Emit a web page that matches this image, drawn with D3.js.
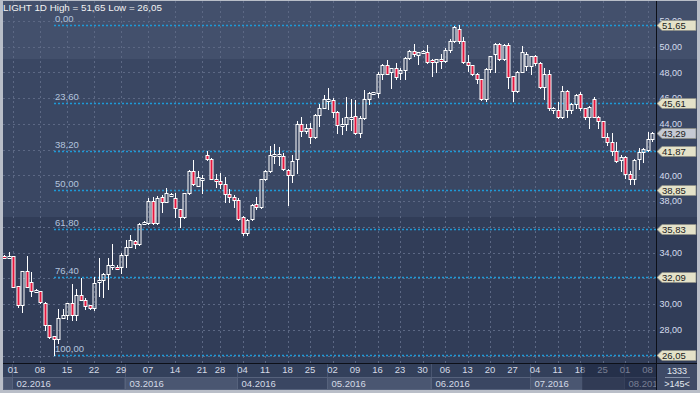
<!DOCTYPE html>
<html><head><meta charset="utf-8">
<script src="https://cdn.jsdelivr.net/npm/d3@7"></script>
<style>
html,body{margin:0;padding:0;background:#b9bec8;overflow:hidden;}
svg{display:block;font-family:"Liberation Sans",Arial,sans-serif;}
</style></head><body>
<svg id="c" width="700" height="393"></svg>
<script>
// ---- data ----
const opens  = [33.75,33.65,33.7,31.4,29.9,32.55,31.75,31.0,31.0,30.1,28.35,27.5,27.3,28.95,29.15,30.05,29.15,30.7,30.35,29.9,
29.7,31.7,31.85,32.35,33.0,32.9,32.85,33.8,34.4,34.9,34.7,36.3,36.3,38.0,36.3,38.3,37.95,38.5,38.2,37.35,
36.75,38.6,40.35,39.2,39.75,41.55,41.3,39.75,39.55,39.3,38.55,38.35,38.1,36.75,35.5,36.6,37.75,37.5,39.7,40.3,
41.6,41.6,41.5,40.4,40.0,41.25,43.95,43.45,43.65,42.95,44.7,45.25,45.9,45.85,44.9,43.85,44.0,44.5,44.6,43.25,
44.45,45.9,46.4,46.4,47.9,48.6,48.0,48.3,47.95,48.15,49.1,49.65,49.35,49.6,49.6,48.95,48.8,49.0,48.85,49.7,
50.4,51.4,50.45,48.8,48.55,47.9,47.45,45.9,48.25,49.4,50.2,49.0,50.15,47.7,46.55,48.05,48.45,48.45,49.25,48.75,
46.85,47.85,45.15,45.05,44.5,46.55,45.05,45.5,46.3,45.2,44.5,45.95,44.55,44.2,43.0,42.6,41.9,41.15,41.4,40.1,
39.7,41.25,41.8,41.95,42.8];
const highs  = [33.8,34.05,33.75,31.4,32.6,33.7,32.5,31.15,31.05,30.15,28.4,27.55,29.65,29.65,30.1,31.55,31.15,32.05,30.5,29.95,
32.1,33.6,32.4,33.6,34.7,33.0,33.95,34.95,35.35,35.0,36.3,36.45,38.2,38.35,38.4,38.45,39.0,38.6,38.6,37.4,
38.65,40.4,41.2,40.3,40.0,41.85,41.35,40.1,40.15,39.85,38.9,38.5,38.2,36.8,36.6,37.75,38.3,39.75,40.4,42.25,
42.45,42.2,41.7,40.45,41.55,44.25,44.5,43.95,44.1,44.75,45.5,46.2,46.75,46.0,45.0,44.45,46.05,45.9,45.85,44.6,
46.6,46.5,46.5,48.0,48.65,48.95,48.35,48.75,48.3,49.15,49.75,50.2,49.6,49.75,50.1,49.0,49.05,49.45,49.85,50.6,
51.6,51.65,50.75,49.35,48.6,47.95,47.5,48.3,49.3,50.3,50.3,50.2,50.25,47.75,48.1,50.05,49.6,49.3,49.35,48.8,
48.3,48.2,45.3,45.7,46.95,46.6,45.6,46.3,46.45,45.25,45.35,46.05,44.6,44.25,43.3,43.25,42.6,41.6,41.5,40.3,
41.25,42.1,42.1,43.4,43.35];
const lows   = [33.6,33.6,31.3,29.8,29.4,31.3,30.65,30.95,30.05,28.0,27.4,26.05,26.95,28.9,28.8,28.75,28.75,30.3,29.65,29.6,
29.5,30.6,30.55,31.15,32.7,32.7,32.4,32.9,34.4,34.35,34.6,36.2,36.2,36.2,36.2,37.15,37.9,38.45,36.75,35.95,
36.7,38.55,39.25,39.15,38.6,41.2,39.7,39.1,39.0,37.95,37.95,37.5,36.55,35.35,35.35,36.5,37.4,37.45,39.65,40.25,
40.95,40.8,40.4,37.7,39.5,40.15,43.05,43.3,42.5,42.9,43.8,45.2,45.15,44.55,43.3,43.2,43.5,43.5,43.2,43.0,
44.4,45.5,46.35,46.1,47.5,47.85,46.75,47.45,47.45,47.45,49.0,49.3,48.65,49.5,48.75,47.7,48.05,48.3,48.8,49.6,
50.35,50.3,48.75,48.1,47.8,47.2,45.85,45.8,48.0,48.05,48.95,48.95,46.75,45.8,46.5,48.0,48.2,47.85,48.6,46.8,
45.9,45.1,44.8,44.45,44.45,44.55,44.8,45.2,45.1,44.4,43.65,44.5,43.7,42.95,42.35,41.6,41.05,40.3,39.8,39.3,
39.35,40.45,41.05,41.9,42.7];
const closes = [33.65,33.75,31.35,29.9,32.55,31.35,31.05,31.1,30.15,28.35,27.45,27.3,28.95,29.15,30.05,29.15,30.7,30.35,29.85,29.7,
31.6,31.85,32.35,33.05,33.05,32.75,33.8,34.4,34.95,34.7,36.25,36.35,38.0,36.3,38.2,37.95,38.6,38.55,37.45,36.75,
38.6,40.35,39.3,39.9,39.8,41.3,39.75,39.6,39.3,38.55,38.3,38.1,36.6,35.5,36.5,37.7,37.5,39.7,40.35,41.6,
41.65,41.65,40.45,40.0,41.1,44.0,43.45,43.7,42.95,44.7,45.25,45.9,45.95,44.9,43.9,44.0,44.5,44.55,43.25,44.45,
45.9,46.4,46.45,47.9,48.55,47.9,48.3,47.6,48.2,49.1,49.65,49.4,49.55,49.65,48.8,48.8,49.0,48.85,49.75,50.45,
51.55,50.4,48.8,48.55,47.85,47.45,45.9,48.25,49.25,50.2,49.0,50.15,47.6,46.55,48.05,49.55,49.45,49.25,48.7,46.85,
47.9,45.2,45.25,44.5,46.55,45.1,45.55,46.25,45.2,44.5,45.3,44.55,44.25,43.0,42.6,41.9,41.1,41.4,40.1,39.7,
41.2,41.8,42.05,42.85,43.29];

const dayTickIdx    = [2,8,14,20,26,32,38,44,48,53,58,63,68,73,78,83,88,93,98,103,108,113,118,123,128,133,138,143];
const dayTickLabels = ["01","08","15","22","29","07","14","21","28","04","11","18","25","02","09","16","23","30","06","13","20","27","04","11","18","25","01","08"];
const monthStartIdx = [0,2,27,52,72,95,117,138];
const monthLabels   = ["","02.2016","03.2016","04.2016","05.2016","06.2016","07.2016","08.2016"];
const priceTicks    = [26,28,30,32,34,36,38,40,42,44,46,48,50,52];
const fibPcts       = [0,23.6,38.2,50,61.8,76.4,100];
const rangeHigh = 51.65, rangeLow = 26.05, rangeLowIdx = 11;
const lastPrice = 43.29;
const titleText = "LIGHT 1D High = 51,65 Low = 26,05";
const footerTexts = ["1333", ">145<"];
const dimFromIdx = 128.5;

// ---- layout ----
const svg = d3.select("#c");
const W = 700, H = 393;
const plotL = 3, plotR = 656.5, plotT = 1, plotB = 363;
const axisB = 390;
const n = opens.length;
const x = d3.scaleBand().domain(d3.range(n)).range([1.75, 1.75 + 4.5*n]);
const xc = i => x(i) + x.bandwidth()/2;
const xi = v => 1.75 + 4.5*(v + 0.5);
const y = d3.scaleLinear().domain([rangeLow, rangeHigh]).range([354.9, 25.3]);
const fmt = v => d3.format(".2f")(v).replace(".", ",");

const defs = svg.append("defs");
defs.append("clipPath").attr("id","plotClip").append("rect")
  .attr("x",plotL).attr("y",plotT).attr("width",plotR-plotL).attr("height",plotB-plotT);
defs.append("clipPath").attr("id","axisClip").append("rect")
  .attr("x",plotL).attr("y",plotB).attr("width",plotR-plotL).attr("height",axisB-plotB);

svg.append("rect").attr("width",W).attr("height",H).attr("fill","#b9bec8");
const bands = [[plotT,59,"#43506c"],[59,217,"#3a4763"],[217,plotB,"#313d58"]];
svg.selectAll("rect.bg").data(bands).enter().append("rect")
  .attr("x",plotL).attr("y",d=>d[0]).attr("width",697-plotL).attr("height",d=>d[1]-d[0]).attr("fill",d=>d[2]);

// grid
const grid = svg.append("g").attr("clip-path","url(#plotClip)");
grid.selectAll("line.h").data(priceTicks).enter().append("line")
  .attr("x1",plotL).attr("x2",plotR)
  .attr("y1",d=>Math.round(y(d))+0.5).attr("y2",d=>Math.round(y(d))+0.5)
  .attr("stroke","#5c6884").attr("stroke-dasharray","2,3").attr("stroke-width",1);
grid.selectAll("line.v").data(dayTickIdx).enter().append("line")
  .attr("x1",d=>Math.round(xc(d))+0.5).attr("x2",d=>Math.round(xc(d))+0.5)
  .attr("y1",plotT).attr("y2",plotB)
  .attr("stroke","#5c6884").attr("stroke-dasharray","2,3").attr("stroke-width",1);

// fib lines
const fibs = fibPcts.map(p => ({p, v: rangeHigh - p/100*(rangeHigh-rangeLow)}));
const fg = svg.append("g").attr("clip-path","url(#plotClip)");
fg.selectAll("line").data(fibs).enter().append("line")
  .attr("x1",Math.round(xc(rangeLowIdx))).attr("x2",plotR)
  .attr("y1",d=>Math.round(y(d.v))+0.5).attr("y2",d=>Math.round(y(d.v))+0.5)
  .attr("stroke","#1d9ad8").attr("stroke-width",1.3).attr("stroke-dasharray","2,2");
fg.selectAll("text").data(fibs).enter().append("text")
  .attr("x",Math.round(xc(rangeLowIdx))+1).attr("y",d=>Math.round(y(d.v))-3)
  .attr("font-size",9.5).attr("fill","#b3c4de").text(d=>fmt(d.p));

// candles
const cg = svg.append("g").attr("clip-path","url(#plotClip)");
d3.range(n).forEach(i => {
  const o=opens[i], c=closes[i], h=highs[i], l=lows[i];
  const cx = Math.round(xc(i));
  let top = Math.round(y(Math.max(o,c))), bot = Math.round(y(Math.min(o,c)));
  if (bot - top < 2) bot = top + 2;
  const yh = Math.round(y(h)), yl = Math.round(y(l));
  if (yh < top) cg.append("line").attr("x1",cx+0.5).attr("x2",cx+0.5).attr("y1",yh).attr("y2",top)
      .attr("stroke","#fff").attr("stroke-width",1);
  if (yl > bot) cg.append("line").attr("x1",cx+0.5).attr("x2",cx+0.5).attr("y1",bot).attr("y2",yl+1)
      .attr("stroke","#fff").attr("stroke-width",1);
  cg.append("rect").attr("x",cx-1).attr("y",top+0.5).attr("width",3).attr("height",bot-top)
    .attr("fill", c >= o ? "none" : "#e3173e").attr("stroke","#fff").attr("stroke-width",1);
});

// title
svg.append("text").attr("x",3).attr("y",11).attr("font-size",9.8).attr("fill","#f2f2f2").text(titleText);

// right price axis (labels fully covered by a value box are left out)
const boxVals = fibs.map(d=>d.v).concat([lastPrice]);
const shownTicks = priceTicks.filter(t => boxVals.every(v => Math.abs(y(t)-y(v)) > 4));
const ra = svg.append("g").attr("transform",`translate(${plotR},0)`)
  .call(d3.axisRight(y).tickValues(shownTicks).tickFormat(fmt).tickSize(0).tickPadding(3));
ra.select(".domain").remove();
ra.selectAll("text").attr("font-size",9).attr("fill","#d6deee").attr("font-family","Liberation Sans, Arial, sans-serif");

// fib value boxes + last price box
const boxes = fibs.map(d => ({v:d.v, fill:"#e4e2c9"})).concat([{v:lastPrice, fill:"#c6cad4"}]);
const bg = svg.append("g");
boxes.forEach(b => {
  const yy = Math.round(y(b.v)) + 0.5;
  bg.append("path")
    .attr("d",`M${plotR+0.5},${yy} L${plotR+5.5},${yy-5} L${696},${yy-5} L${696},${yy+5} L${plotR+5.5},${yy+5} Z`)
    .attr("fill",b.fill).attr("stroke","#8e8f86").attr("stroke-width",0.8);
  bg.append("text").attr("x",plotR+5.5).attr("y",yy+3.5).attr("font-size",9.5).attr("fill","#1c1c1c").text(fmt(b.v));
});

// bottom axis area
svg.append("rect").attr("x",plotL).attr("y",plotB).attr("width",plotR-plotL).attr("height",axisB-plotB).attr("fill","#33405b");
const ag = svg.append("g").attr("clip-path","url(#axisClip)");
const months = monthStartIdx.map((s,k) => ({s, e: k+1 < monthStartIdx.length ? monthStartIdx[k+1] : n+3, label: monthLabels[k], k}));
ag.selectAll("rect.m").data(months).enter().append("rect")
  .attr("x",d=>Math.round(xc(d.s))-0.5+ (d.k===0? -xc(0)+plotL+1 : 0)).attr("y",377.5)
  .attr("width",d=> xi(d.e) - xi(d.s) + (d.k===0? xc(0)-plotL-1 : 0)).attr("height",12)
  .attr("fill",d=> d.k%2===0 ? "#4a5671" : "#3a4662").attr("stroke","#56627c").attr("stroke-width",1);
ag.selectAll("line.m").data(months.slice(1)).enter().append("line")
  .attr("x1",d=>Math.round(xc(d.s))-0.5).attr("x2",d=>Math.round(xc(d.s))-0.5)
  .attr("y1",plotB).attr("y2",377).attr("stroke","#4a5671");
ag.selectAll("text.m").data(months).enter().append("text")
  .attr("x",d=>Math.round(xc(d.s))+3.5).attr("y",386.5).attr("font-size",9.5).attr("fill","#d4dae6")
  .text(d=>d.label);

const ba = svg.append("g").attr("transform",`translate(0,${plotB})`)
  .call(d3.axisBottom(x).tickValues(dayTickIdx).tickFormat((d,k)=>dayTickLabels[k]).tickSize(0).tickPadding(3));
ba.select(".domain").remove();
ba.selectAll("text").attr("font-size",9.5).attr("fill","#d4dae6").attr("font-family","Liberation Sans, Arial, sans-serif");

// dimmed tail of the axis
svg.append("rect").attr("x",xi(dimFromIdx)).attr("y",plotB).attr("width",plotR-xi(dimFromIdx)).attr("height",axisB-plotB)
  .attr("fill","#18203a").attr("opacity",0.5);

// bottom-right info box
svg.append("rect").attr("x",plotR).attr("y",plotB).attr("width",697-plotR).attr("height",axisB-plotB).attr("fill","#3e4a66");
svg.append("line").attr("x1",665).attr("x2",690).attr("y1",377.5).attr("y2",377.5).attr("stroke","#8894aa");
svg.append("text").attr("x",677).attr("y",374).attr("text-anchor","middle").attr("font-size",9).attr("fill","#e6eaf2").text(footerTexts[0]);
svg.append("text").attr("x",677).attr("y",387).attr("text-anchor","middle").attr("font-size",9).attr("fill","#e6eaf2").text(footerTexts[1]);

// separators
svg.append("line").attr("x1",plotR).attr("x2",plotR).attr("y1",plotT).attr("y2",axisB).attr("stroke","#0d1018").attr("stroke-width",1);
svg.append("line").attr("x1",plotL).attr("x2",697).attr("y1",plotB+0.5).attr("y2",plotB+0.5).attr("stroke","#0d1018").attr("stroke-width",1);
</script>
</body></html>
